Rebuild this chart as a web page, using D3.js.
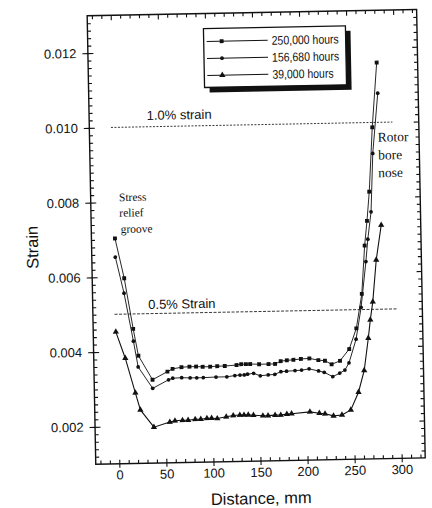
<!DOCTYPE html>
<html>
<head>
<meta charset="utf-8">
<script src="https://cdn.jsdelivr.net/npm/d3@7"></script>
<style>
  html, body { margin: 0; padding: 0; background: #fff; }
  svg { display: block; }
</style>
</head>
<body>
<div id="chart"></div>
<script>
// values (distance in mm, strain)
const seriesNames = ['250,000 hours', '156,680 hours', '39,000 hours'];

const dist250k = [0, 9, 17.5, 22.5, 37, 53, 58.5, 68, 76.5, 83.5, 90.5, 98.5, 106, 114, 126.5, 131.5, 136.5, 141, 150.5, 160.5, 167.5, 173.5, 180, 187, 195, 204, 213.5, 220.5, 227.5, 236.5, 246.5, 254.5, 261, 265, 268, 271, 275.5, 281.5];
const strain250k = [0.00703, 0.00596, 0.00460, 0.00388, 0.00323, 0.00344, 0.00351, 0.00355, 0.00356, 0.00356, 0.00355, 0.00355, 0.00356, 0.00356, 0.00358, 0.00360, 0.00360, 0.00360, 0.00359, 0.00359, 0.00359, 0.00366, 0.00368, 0.00369, 0.00371, 0.00372, 0.00367, 0.00365, 0.00355, 0.00364, 0.00395, 0.00450, 0.00542, 0.00671, 0.00737, 0.00815, 0.00987, 0.01160];

const dist157k = [0, 8.5, 17.5, 22, 37, 54, 58.5, 68, 77, 84, 91, 104.5, 116, 124.5, 130, 134.5, 138, 144.5, 151.5, 160, 167, 173.5, 179.5, 188.5, 195.5, 203.5, 213.5, 219.5, 228.5, 236, 241.5, 246, 254, 260, 266, 268.5, 272.5, 275.5, 282];
const strain157k = [0.00653, 0.00556, 0.00427, 0.00358, 0.00300, 0.00322, 0.00326, 0.00327, 0.00326, 0.00326, 0.00326, 0.00327, 0.00327, 0.00330, 0.00331, 0.00331, 0.00333, 0.00335, 0.00328, 0.00330, 0.00331, 0.00338, 0.00339, 0.00340, 0.00341, 0.00344, 0.00338, 0.00334, 0.00322, 0.00331, 0.00339, 0.00358, 0.00421, 0.00506, 0.00628, 0.00688, 0.00761, 0.00917, 0.01078];

const dist39k = [-1, 8.5, 18.5, 23.5, 37.5, 54.5, 60, 68, 74, 81.5, 87.5, 94, 99, 105, 114.5, 122, 129, 133.5, 138, 143.5, 153.5, 159, 166.5, 172.5, 179, 184, 203.5, 213.5, 219.5, 228.5, 237.5, 247, 255.5, 262, 267, 269.5, 272.5, 277, 283];
const strain39k = [0.00453, 0.00382, 0.00289, 0.00243, 0.00196, 0.00209, 0.00212, 0.00213, 0.00213, 0.00215, 0.00215, 0.00217, 0.00217, 0.00216, 0.00220, 0.00223, 0.00224, 0.00224, 0.00224, 0.00223, 0.00221, 0.00221, 0.00222, 0.00222, 0.00224, 0.00225, 0.00229, 0.00225, 0.00223, 0.00217, 0.00219, 0.00232, 0.00279, 0.00337, 0.00423, 0.00472, 0.00520, 0.00632, 0.00725];

const xTicks = [0, 50, 100, 150, 200, 250, 300];
const yTicks = [0.002, 0.004, 0.006, 0.008, 0.010, 0.012];

const refStrain = [0.010, 0.005];
const refStart = [-2, -2];
const refEnd = [297, 299];
const refLabels = ['1.0% strain', '0.5% Strain'];

const width = 432;
const height = 508;
const plotLeft = 91.5, plotRight = 421, plotTop = 12.5, plotBottom = 461;
const sans = "'Liberation Sans', Arial, sans-serif";
const serif = "'Liberation Serif', 'Times New Roman', serif";

const x = d3.scaleLinear().domain([-25, 325]).range([plotLeft, plotRight]);
const y = d3.scaleLinear().domain([0.001, 0.013]).range([plotBottom, plotTop]);

const series = [
  { name: seriesNames[0], dist: dist250k, strain: strain250k, symbol: d3.symbolSquare, size: 15 },
  { name: seriesNames[1], dist: dist157k, strain: strain157k, symbol: d3.symbolCircle, size: 11 },
  { name: seriesNames[2], dist: dist39k, strain: strain39k, symbol: d3.symbolTriangle, size: 17 },
];

const svg = d3.select('#chart').append('svg')
  .attr('width', width)
  .attr('height', height);

svg.append('rect').attr('width', width).attr('height', height).attr('fill', '#fff');

// the scan is tilted a little, so the whole figure is turned with it
const root = svg.append('g').attr('transform', 'rotate(-1.1, 260, 240)');

// minor / inner ticks
const minorX = d3.range(-20, 330, 10).filter((d) => d % 50 !== 0);
const minorY = d3.range(1.2, 13, 0.2)
  .map((d) => Math.round(d * 10) / 10)
  .filter((d) => Math.abs(d / 2 - Math.round(d / 2)) > 1e-6)
  .map((d) => d / 1000);

function tickStyle(g) {
  g.select('.domain').remove();
  g.selectAll('line').attr('stroke', '#111').attr('stroke-width', 1.1);
}

root.append('g').attr('transform', `translate(0,${plotBottom})`)
  .call(d3.axisBottom(x).tickValues(xTicks).tickSize(4).tickPadding(2.5))
  .call(tickStyle)
  .call((g) => g.selectAll('text').style('font', `13px ${sans}`).attr('fill', '#111'));

root.append('g').attr('transform', `translate(0,${plotBottom})`)
  .call(d3.axisTop(x).tickValues(xTicks).tickSize(4).tickFormat(''))
  .call(tickStyle);
root.append('g').attr('transform', `translate(0,${plotBottom})`)
  .call(d3.axisTop(x).tickValues(minorX).tickSize(3.5).tickFormat(''))
  .call(tickStyle);
root.append('g').attr('transform', `translate(0,${plotTop})`)
  .call(d3.axisBottom(x).tickValues(xTicks).tickSize(5).tickFormat(''))
  .call(tickStyle);
root.append('g').attr('transform', `translate(0,${plotTop})`)
  .call(d3.axisBottom(x).tickValues(minorX).tickSize(3.5).tickFormat(''))
  .call(tickStyle);

root.append('g').attr('transform', `translate(${plotLeft},0)`)
  .call(d3.axisLeft(y).tickValues(yTicks).tickSize(5.5).tickPadding(6).tickFormat(d3.format('.3f')))
  .call(tickStyle)
  .call((g) => g.selectAll('text').style('font', `13px ${sans}`).attr('fill', '#111'));
root.append('g').attr('transform', `translate(${plotLeft},0)`)
  .call(d3.axisRight(y).tickValues(yTicks).tickSize(5.5).tickFormat(''))
  .call(tickStyle);
root.append('g').attr('transform', `translate(${plotLeft},0)`)
  .call(d3.axisRight(y).tickValues(minorY).tickSize(3.5).tickFormat(''))
  .call(tickStyle);
root.append('g').attr('transform', `translate(${plotRight},0)`)
  .call(d3.axisLeft(y).tickValues(yTicks).tickSize(5).tickFormat(''))
  .call(tickStyle);
root.append('g').attr('transform', `translate(${plotRight},0)`)
  .call(d3.axisLeft(y).tickValues(minorY).tickSize(3.5).tickFormat(''))
  .call(tickStyle);

root.append('rect')
  .attr('x', plotLeft).attr('y', plotTop)
  .attr('width', plotRight - plotLeft).attr('height', plotBottom - plotTop)
  .attr('fill', 'none').attr('stroke', '#111').attr('stroke-width', 1.4);

// axis titles
root.append('text')
  .attr('x', (plotLeft + plotRight) / 2).attr('y', 504)
  .attr('text-anchor', 'middle')
  .style('font', `16.5px ${sans}`)
  .attr('fill', '#111')
  .text('Distance, mm');

root.append('text')
  .attr('transform', 'translate(38,243) rotate(-90)')
  .attr('text-anchor', 'middle')
  .style('font', `16.5px ${sans}`)
  .attr('fill', '#111')
  .text('Strain');

// reference strain levels
root.append('g').selectAll('line')
  .data(refStrain)
  .join('line')
  .attr('x1', (d, i) => x(refStart[i]))
  .attr('x2', (d, i) => x(refEnd[i]))
  .attr('y1', (d) => y(d))
  .attr('y2', (d) => y(d))
  .attr('stroke', '#222')
  .attr('stroke-width', 0.9)
  .attr('stroke-dasharray', (d, i) => (i === 0 ? '2,1.5' : '3,1.5'));

root.append('g').selectAll('text')
  .data(refLabels)
  .join('text')
  .attr('x', (d, i) => (i === 0 ? 149 : 147))
  .attr('y', (d, i) => y(refStrain[i]) - (i === 0 ? 6.8 : 4.6))
  .style('font', `13px ${sans}`)
  .attr('fill', '#111')
  .text((d) => d);

// notes on the plot
const notes = root.append('g').style('font', `11.5px ${serif}`).attr('fill', '#111');
[['Stress', 119.8, 198.5], ['relief', 119.8, 214], ['groove', 120.8, 230.3]].forEach(([t, tx, ty]) => {
  notes.append('text').attr('x', tx).attr('y', ty).text(t);
});
[['Rotor', 379.5, 144], ['bore', 379.8, 161.8], ['nose', 379.5, 179.6]].forEach(([t, tx, ty]) => {
  notes.append('text').attr('x', tx).attr('y', ty).style('font-size', '13.5px').text(t);
});

// series
const line = d3.line()
  .x((d) => x(d[0]))
  .y((d) => y(d[1]));

series.forEach((s) => {
  const pts = s.dist.map((d, i) => [d, s.strain[i]]);
  const g = root.append('g');
  g.append('path')
    .attr('d', line(pts))
    .attr('fill', 'none')
    .attr('stroke', '#111')
    .attr('stroke-width', s.symbol === d3.symbolTriangle ? 1.1 : 0.9);
  g.selectAll('path.pt')
    .data(pts)
    .join('path')
    .attr('class', 'pt')
    .attr('transform', (d) => `translate(${x(d[0])},${y(d[1])})`)
    .attr('d', d3.symbol(s.symbol, s.size))
    .attr('fill', '#111');
});

// legend with drop shadow
const lg = root.append('g').attr('transform', 'translate(207.5,27.5)');
lg.append('rect')
  .attr('x', 5).attr('y', 5).attr('width', 142).attr('height', 59)
  .attr('fill', '#111');
lg.append('rect')
  .attr('width', 142).attr('height', 59)
  .attr('fill', '#fff').attr('stroke', '#111').attr('stroke-width', 1.3);

const rows = lg.selectAll('g.row')
  .data(series)
  .join('g')
  .attr('class', 'row')
  .attr('transform', (d, i) => `translate(0,${13 + i * 17})`);

rows.append('line')
  .attr('x1', 3).attr('x2', 64)
  .attr('stroke', '#111').attr('stroke-width', 1);
rows.append('path')
  .attr('transform', 'translate(18,0)')
  .attr('d', (d) => d3.symbol(d.symbol, d.size)())
  .attr('fill', '#111');
rows.append('text')
  .attr('transform', 'translate(68,4.5) scale(0.84,1)')
  .style('font', `12.5px ${sans}`)
  .attr('fill', '#111')
  .text((d) => d.name);
</script>
</body>
</html>
